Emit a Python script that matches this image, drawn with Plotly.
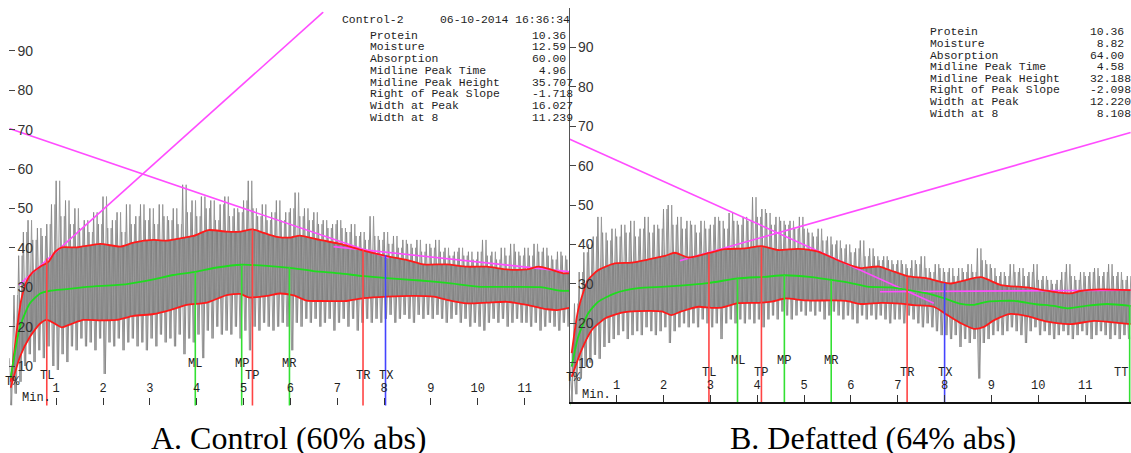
import plotly.graph_objects as go

W, H = 1131, 453

# ---------------------------------------------------------------- data
SIGNAL_STEP = 0.1  # raw signal extremes read every 0.1 min

A_RAW_HIGH = [12, 28, 38, 44, 47, 42, 45, 43, 46, 51,
              57, 48, 52, 46, 50, 45, 47, 44, 49, 46,
              53, 45, 47, 49, 44, 51, 46, 48, 51, 47,
              50, 46, 51, 48, 47, 50, 46, 56, 49, 52,
              48, 53, 50, 52, 47, 51, 53, 48, 50, 49,
              52, 57, 50, 48, 51, 47, 49, 52, 47, 49,
              50, 54, 48, 50, 47, 49, 46, 47, 45, 46,
              47, 45, 44, 46, 43, 44, 42, 48, 43, 42,
              44, 41, 43, 40, 42, 41, 40, 42, 39, 41,
              40, 42, 39, 40, 38, 39, 40, 38, 39, 37,
              39, 42, 38, 39, 37, 40, 38, 41, 39, 38,
              40, 38, 41, 39, 40, 38, 37, 39, 38, 37]
A_RAW_LOW = [0, 3, 6, 10, 13, 11, 14, 12, 15, 10,
             9, 13, 11, 15, 14, 17, 15, 16, 14, 17,
             8, 16, 15, 17, 14, 16, 17, 15, 16, 14,
             17, 15, 18, 16, 17, 15, 18, 13, 17, 16,
             18, 12, 19, 17, 20, 18, 19, 18, 20, 17,
             19, 14, 20, 19, 21, 20, 19, 20, 21, 20,
             14, 21, 20, 22, 21, 22, 20, 21, 22, 19,
             21, 22, 20, 22, 19, 21, 22, 21, 22, 21,
             22, 23, 21, 22, 23, 22, 21, 23, 22, 23,
             22, 23, 22, 21, 22, 23, 21, 22, 20, 21,
             20, 19, 21, 22, 21, 22, 20, 21, 22, 21,
             21, 20, 21, 19, 20, 21, 20, 19, 21, 20]
B_RAW_HIGH = [10, 25, 33, 38, 40, 42, 47, 43, 41, 44,
              42, 45, 43, 46, 42, 44, 47, 43, 45, 44,
              49, 50, 45, 47, 44, 46, 45, 43, 46, 44,
              45, 47, 46, 44, 48, 46, 45, 47, 46, 52,
              47, 49, 48, 45, 47, 46, 45, 46, 44, 47,
              44, 43, 42, 44, 41, 42, 40, 41, 39, 40,
              38, 39, 41, 37, 39, 37, 36, 37, 36, 35,
              36, 35, 34, 36, 35, 37, 34, 33, 35, 34,
              33, 34, 32, 34, 33, 35, 33, 39, 36, 35,
              34, 32, 33, 32, 35, 33, 34, 32, 33, 35,
              31, 32, 31, 30, 31, 33, 35, 32, 31, 33,
              32, 33, 34, 32, 33, 35, 32, 33, 31, 32]
B_RAW_LOW = [0, 2, 6, 9, 10, 12, 11, 14, 15, 16,
             17, 18, 16, 17, 18, 17, 19, 18, 17, 18,
             19, 15, 18, 19, 20, 19, 20, 19, 21, 20,
             19, 20, 16, 20, 21, 20, 21, 20, 21, 20,
             21, 19, 21, 22, 21, 23, 22, 21, 22, 23,
             22, 23, 22, 23, 21, 22, 23, 22, 21, 22,
             21, 20, 22, 21, 22, 21, 22, 21, 20, 21,
             21, 20, 22, 21, 20, 19, 20, 19, 18, 17,
             17, 16, 17, 14, 16, 15, 16, 6, 15, 16,
             17, 18, 17, 18, 19, 18, 17, 15, 18, 19,
             17, 18, 17, 16, 17, 18, 17, 16, 17, 18,
             17, 16, 17, 18, 17, 16, 17, 16, 17, 16]

# envelopes (red) and midline (green)
A_UPPER_T = [0.03, 0.15, 0.25, 0.37, 0.5, 0.66, 0.84, 0.98, 1.12, 1.44, 1.94, 2.37, 2.65,
             3.08, 3.36, 3.65, 3.93, 4.25, 4.64, 4.93, 5.18, 5.43, 5.71, 6.0, 6.2, 6.63,
             7.06, 7.56, 8.06, 8.49, 8.84, 9.34, 9.77, 10.2, 10.62, 11.05, 11.3, 11.55,
             11.83, 11.98]
A_UPPER_V = [6.0, 18.0, 26.5, 31.5, 33.8, 35.2, 36.5, 39.0, 40.1, 40.1, 41.0, 40.3, 41.3,
             42.0, 41.8, 42.4, 43.0, 44.5, 44.1, 44.1, 44.7, 43.8, 42.8, 42.6, 43.1, 42.0,
             41.0, 39.3, 37.9, 36.9, 35.8, 35.8, 35.2, 35.2, 34.5, 34.5, 35.2, 34.5,
             33.5, 33.6]
A_LOWER_T = [0.03, 0.23, 0.44, 0.66, 0.8, 0.98, 1.12, 1.33, 1.58, 1.94, 2.29, 2.65, 3.08,
             3.43, 3.79, 4.22, 4.64, 4.93, 5.11, 5.5, 5.78, 6.07, 6.35, 6.63, 7.2, 7.56,
             8.06, 8.63, 9.06, 9.34, 9.77, 10.2, 10.62, 11.05, 11.48, 11.69, 11.98]
A_LOWER_V = [4.5, 12.4, 17.4, 20.8, 21.7, 20.7, 19.8, 20.7, 21.7, 21.6, 21.7, 22.7, 23.2,
             24.2, 25.5, 26.1, 28.0, 28.3, 27.4, 27.8, 28.4, 27.9, 26.6, 26.5, 26.5, 27.2,
             27.6, 27.8, 27.6, 26.8, 25.9, 26.1, 26.3, 25.5, 24.4, 24.2, 24.8]
A_MID_T = [0.03, 0.23, 0.44, 0.66, 0.87, 1.22, 1.65, 2.51, 3.08, 3.5, 3.97, 4.43, 4.96,
           5.5, 5.99, 6.49, 7.06, 7.56, 8.06, 8.77, 9.34, 10.06, 10.77, 11.34, 11.77, 11.98]
A_MID_V = [7.0, 20.0, 25.9, 28.4, 29.1, 29.5, 30.1, 30.8, 32.0, 33.1, 33.9, 35.0, 35.7,
           35.4, 34.9, 34.1, 33.5, 32.8, 32.3, 31.7, 31.1, 30.1, 30.1, 30.0, 29.1, 29.1]

B_UPPER_T = [0.04, 0.18, 0.39, 0.61, 0.96, 1.32, 1.68, 2.03, 2.24, 2.53, 2.95, 3.31, 3.74,
             4.09, 4.45, 4.87, 5.3, 5.72, 6.08, 6.21, 6.6, 6.92, 7.2, 7.63, 8.13, 8.77,
             9.2, 9.76, 10.33, 10.69, 10.9, 11.32, 11.97]
B_UPPER_V = [12.4, 23.4, 31.0, 33.5, 35.2, 35.4, 36.2, 37.1, 37.9, 36.7, 37.8, 38.8, 39.0,
             39.6, 38.6, 38.9, 38.2, 36.0, 34.4, 34.0, 34.4, 33.1, 32.0, 31.4, 30.1, 31.7,
             29.7, 29.1, 28.0, 27.6, 28.2, 28.6, 28.4]
B_LOWER_T = [0.04, 0.25, 0.47, 0.76, 1.11, 1.46, 1.96, 2.17, 2.38, 2.74, 3.02, 3.24, 3.59,
             4.02, 4.31, 4.6, 5.02, 5.59, 5.9, 6.21, 6.64, 7.06, 7.35, 7.77, 8.06, 8.35,
             8.63, 8.84, 9.06, 9.41, 9.76, 10.19, 10.69, 11.19, 11.69, 11.97]
B_LOWER_V = [6.4, 13.2, 18.3, 21.3, 22.7, 23.1, 23.0, 22.1, 23.0, 24.2, 23.9, 24.0, 25.1,
             25.2, 25.5, 26.3, 25.8, 25.8, 25.7, 24.9, 25.2, 25.0, 24.6, 24.2, 22.1, 20.0,
             18.6, 19.1, 20.8, 22.4, 21.8, 20.4, 19.8, 20.6, 20.1, 19.8]
B_MID_T = [0.04, 0.18, 0.39, 0.61, 0.96, 1.46, 2.03, 2.95, 3.58, 4.16, 4.58, 5.16, 5.58,
           6.0, 6.35, 6.85, 7.2, 7.63, 8.0, 8.35, 8.63, 8.92, 9.49, 9.92, 10.33, 10.62,
           11.05, 11.47, 11.97]
B_MID_V = [9.0, 16.6, 22.5, 25.5, 27.6, 28.9, 29.3, 30.2, 31.4, 31.8, 32.2, 31.7, 31.0,
           30.2, 29.3, 29.1, 28.5, 27.6, 26.3, 24.9, 24.7, 25.5, 25.7, 24.9, 24.4, 23.8,
           24.5, 24.9, 24.4]

# tangent lines (magenta): [t_start, t_end], [v_start, v_end]
A_TANGENTS = [([0.21, 6.70], [30.6, 99.8]),
              ([0.0, 8.1], [70.3, 37.4]),
              ([6.92, 11.98], [40.3, 33.9])]
B_TANGENTS = [([0.0, 7.77], [66.7, 25.1]),
              ([2.35, 11.97], [35.9, 68.4]),
              ([6.62, 11.97], [28.0, 28.4])]

# time markers
A_MARK_NAMES = ["TL", "ML", "MP", "TP", "MR", "TR", "TX", "TT"]
A_MARK_TIMES = [0.80, 3.97, 4.96, 5.19, 5.98, 7.55, 8.03, 12.0]
A_MARK_TOPS = [37.3, 33.9, 35.7, 44.7, 35.2, 39.4, 38.2, 29.0]
B_MARK_NAMES = ["TL", "ML", "TP", "MP", "MR", "TR", "TX", "TT"]
B_MARK_TIMES = [2.97, 3.58, 4.09, 4.58, 5.58, 7.20, 8.00, 11.95]
B_MARK_TOPS = [37.7, 31.4, 39.4, 32.2, 31.0, 31.8, 30.2, 24.6]

X_TICKS = [1, 2, 3, 4, 5, 6, 7, 8, 9, 10, 11]
A_Y_TICKS = [10, 20, 30, 40, 50, 60, 70, 80, 90, 100]
A_Y_TEXT = ["10", "20", "30", "40", "50", "60", "70", "80", "90", ""]
B_Y_TICKS = [10, 20, 30, 40, 50, 60, 70, 80, 90]
B_Y_TEXT = ["10", "20", "30", "40", "50", "60", "70", "80", "90"]

STAT_LABELS = ["Protein", "Moisture", "Absorption", "Midline Peak Time",
               "Midline Peak Height", "Right of Peak Slope", "Width at Peak", "Width at 8"]
A_STATS = ["10.36", "12.59", "60.00", "4.96", "35.707", "-1.718", "16.027", "11.239"]
B_STATS = ["10.36", "8.82", "64.00", "4.58", "32.188", "-2.098", "12.220", "8.108"]
A_SAMPLE = "Control-2"
A_STAMP = "06-10-2014 16:36:34"
CAPTIONS = ["A. Control (60% abs)", "B. Defatted (64% abs)"]

# ---------------------------------------------------------------- style
GRAY = "#808080"
RED = "#ff1a1a"
GREEN = "#1fdc1f"
MAGENTA = "#ff4dff"
MARK_COLORS = {"TL": "#ff4444", "TP": "#ff4444", "TR": "#ff4444",
               "ML": "#33e033", "MP": "#33e033", "MR": "#33e033", "TT": "#33e033",
               "TX": "#4444ff"}
MONO = "Liberation Mono"
INK = "#1e1e1e"

# pixel geometry of the two chart panels
PX_PER_MIN = 46.85
PX_PER_UNIT = 3.94
PANELS = {
    "A": dict(x0=9.3, x1=571.0, y0=405.4),
    "B": dict(x0=569.8, x1=1131.0, y0=402.1),
}

fig = go.Figure()


def oscillation(high, low, phase):
    """Raw mixing trace: alternate between the read maxima and minima."""
    xs, ys = [], []
    half = SIGNAL_STEP / 2
    for i, (hi, lo) in enumerate(zip(high, low)):
        t = i * SIGNAL_STEP
        if phase == 0:
            xs += [t, t + half]
            ys += [hi, lo]
        else:
            xs += [t + half * 0.5, t + half * 1.5]
            ys += [lo, hi]
    return xs, ys


def add_panel(ax, raw_hi, raw_lo, up_t, up_v, lo_t, lo_v, mid_t, mid_v,
              tangents, names, times, tops):
    xa, ya = ("x", "y") if ax == "A" else ("x2", "y2")
    # dense core of the trace between the envelopes
    fig.add_trace(go.Scatter(
        x=list(up_t) + list(reversed(lo_t)), y=list(up_v) + list(reversed(lo_v)),
        fill="toself", fillcolor=GRAY, line=dict(width=0), mode="lines",
        xaxis=xa, yaxis=ya, hoverinfo="skip"))
    for phase, col in ((0, "#8a8a8a"), (1, "#9a9a9a")):
        zx, zy = oscillation(raw_hi, raw_lo, phase)
        fig.add_trace(go.Scatter(x=zx, y=zy, mode="lines",
                                 line=dict(color=col, width=1),
                                 xaxis=xa, yaxis=ya, hoverinfo="skip"))
    for tx, tv in tangents:
        fig.add_trace(go.Scatter(x=tx, y=tv, mode="lines",
                                 line=dict(color=MAGENTA, width=1.6),
                                 xaxis=xa, yaxis=ya))
    for t, v, c in ((up_t, up_v, RED), (lo_t, lo_v, RED), (mid_t, mid_v, GREEN)):
        fig.add_trace(go.Scatter(x=t, y=v, mode="lines",
                                 line=dict(color=c, width=1.8, shape="spline",
                                           smoothing=0.6),
                                 xaxis=xa, yaxis=ya))
    for name, t, top in zip(names, times, tops):
        fig.add_trace(go.Scatter(x=[t, t], y=[-1, top], mode="lines",
                                 line=dict(color=MARK_COLORS[name], width=1.6),
                                 xaxis=xa, yaxis=ya))
        upper_row = name in ("ML", "MP", "MR")
        anchor = "right" if name == "TT" else "center"
        fig.add_annotation(x=t, y=10.4 if upper_row else 7.4, xref=xa, yref=ya,
                           text=name, showarrow=False, xanchor=anchor,
                           font=dict(family=MONO, size=12, color=INK))
    fig.add_annotation(x=0.57, y=1.8, xref=xa, yref=ya, text="Min.", showarrow=False,
                       font=dict(family=MONO, size=12, color=INK))
    fig.add_annotation(x=0.07, y=6.0, xref=xa, yref=ya, text="T%", showarrow=False,
                       font=dict(family=MONO, size=12, color=INK))


add_panel("A", A_RAW_HIGH, A_RAW_LOW, A_UPPER_T, A_UPPER_V, A_LOWER_T, A_LOWER_V,
          A_MID_T, A_MID_V, A_TANGENTS, A_MARK_NAMES, A_MARK_TIMES, A_MARK_TOPS)
add_panel("B", B_RAW_HIGH, B_RAW_LOW, B_UPPER_T, B_UPPER_V, B_LOWER_T, B_LOWER_V,
          B_MID_T, B_MID_V, B_TANGENTS, B_MARK_NAMES, B_MARK_TIMES, B_MARK_TOPS)


def axes_for(key, yticks, ytext, show_lines):
    p = PANELS[key]
    xdom = [p["x0"] / W, p["x1"] / W]
    xrng = [0, (p["x1"] - p["x0"]) / PX_PER_MIN]
    ytop = p["y0"] - 100 * PX_PER_UNIT
    ydom = [(H - p["y0"]) / H, (H - ytop) / H]
    xaxis = dict(domain=xdom, range=xrng, tickvals=X_TICKS,
                 ticktext=[str(v) for v in X_TICKS], ticks="inside", ticklen=7,
                 tickwidth=1, tickcolor="#333", ticklabelposition="inside",
                 ticklabelstandoff=3, tickfont=dict(family=MONO, size=12, color=INK),
                 showgrid=False, zeroline=False, showline=show_lines,
                 linecolor="#111", linewidth=2, fixedrange=True)
    yaxis = dict(domain=ydom, range=[0, 100], tickvals=yticks, ticktext=ytext,
                 ticks="inside", ticklen=6, tickwidth=1, tickcolor="#444",
                 ticklabelposition="inside", ticklabelstandoff=2,
                 tickfont=dict(family="Liberation Sans", size=14, color="#333"),
                 showgrid=False, zeroline=False, showline=show_lines,
                 linecolor="#555", linewidth=1, fixedrange=True)
    return xaxis, yaxis


xa1, ya1 = axes_for("A", A_Y_TICKS, A_Y_TEXT, False)
xa2, ya2 = axes_for("B", B_Y_TICKS, B_Y_TEXT, True)
ya1["anchor"] = "x"
xa1["anchor"] = "y"
xa2["anchor"] = "y2"
ya2["anchor"] = "x2"


def px_note(px, py, text, size=11.4, family=MONO, anchor="left", color=INK):
    fig.add_annotation(x=px / W, y=1 - py / H, xref="paper", yref="paper",
                       text=text, showarrow=False, xanchor=anchor, yanchor="middle",
                       font=dict(family=family, size=size, color=color))


def pad_value(s):
    whole = s.split(".")[0]
    return "\u00a0" * max(0, 2 - len(whole)) + s


# stats tables
px_note(340, 20, A_SAMPLE)
px_note(438, 20, A_STAMP)
for i, (lab, val) in enumerate(zip(STAT_LABELS, A_STATS)):
    py = 35.7 + i * 11.75
    px_note(368.3, py, lab)
    px_note(529.5, py, pad_value(val))
for i, (lab, val) in enumerate(zip(STAT_LABELS, B_STATS)):
    py = 32.3 + i * 11.63
    px_note(928.3, py, lab)
    px_note(1087.5, py, pad_value(val))

# panel captions
px_note(289, 437.5, CAPTIONS[0], size=32, family="Liberation Serif", anchor="center",
        color="#000")
px_note(873, 437.5, CAPTIONS[1], size=32, family="Liberation Serif", anchor="center",
        color="#000")

fig.update_layout(
    width=W, height=H, margin=dict(l=0, r=0, t=0, b=0),
    paper_bgcolor="white", plot_bgcolor="white", showlegend=False,
    xaxis=xa1, yaxis=ya1, xaxis2=xa2, yaxis2=ya2,
)

fig.write_html("out.html", config={"displayModeBar": False})
